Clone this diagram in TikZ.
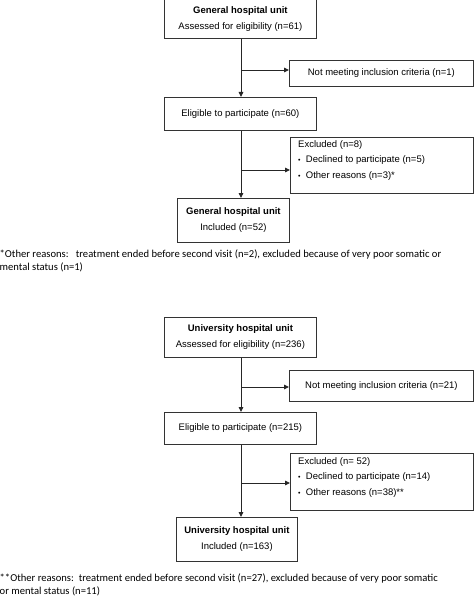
\documentclass[tikz,border=0pt]{standalone}
\usepackage{fontspec}
\setmainfont{Liberation Sans}
\newfontfamily\notefont{Carlito}
\usetikzlibrary{arrows.meta}
\begin{document}
\begin{tikzpicture}[x=1pt,y=-1pt,
  boxstyle/.style={draw=black!80,line width=0.8pt,inner sep=0pt,font=\fontsize{9.5}{12}\selectfont},
  conn/.style={draw=black!85,line width=0.9pt},
  arr/.style={conn,-{Triangle[length=5pt,width=4.5pt]}},
  notestyle/.style={anchor=west,inner sep=0pt,font=\notefont\fontsize{10.6}{13}\selectfont,align=left}]
\useasboundingbox (0,0) rectangle (474,599);
\fill[white] (0,0) rectangle (474,599);
% ---------- General hospital unit ----------
\node[boxstyle,minimum width=152pt,minimum height=39pt,anchor=north west,align=center] (g1) at (164,-0.5)
  {\textbf{General hospital unit}\\[4pt]Assessed for eligibility (n=61)};
\node[boxstyle,minimum width=184pt,minimum height=26pt,anchor=north west] (n1) at (289,60)
  {Not meeting inclusion criteria (n=1)};
\node[boxstyle,minimum width=152pt,minimum height=33pt,anchor=north west] (e1) at (164,97)
  {Eligible to participate (n=60)};
\node[boxstyle,minimum width=183pt,minimum height=56pt,anchor=north west] (x1) at (290,137) {};
\node[anchor=north west,inner sep=0pt,align=left,font=\fontsize{9.5}{15.5}\selectfont] (x1t) at (298,140)
  {Excluded (n=8)\\{\scriptsize\textbullet}\ \ Declined to participate (n=5)\\{\scriptsize\textbullet}\ \ Other reasons (n=3)*};
\node[boxstyle,minimum width=112pt,minimum height=44pt,anchor=north west,align=center] (i1) at (177,198)
  {\textbf{General hospital unit}\\[4pt]Included (n=52)};
\coordinate (b1) at (241,70);
\coordinate (b2) at (241,170);
\draw[arr] (g1.south -| b1) -- (e1.north -| b1);
\draw[arr] (b1) -- (n1.west |- b1);
\draw[arr] (e1.south -| b2) -- (i1.north -| b2);
\draw[arr] (b2) -- (x1.west |- b2);
\node[notestyle] (f1) at (-0.5,261)
  {*Other reasons:\ \ \ treatment ended before second visit (n=2), excluded because of very poor somatic or\\mental status (n=1)};
% ---------- University hospital unit ----------
\node[boxstyle,minimum width=152pt,minimum height=40pt,anchor=north west,align=center] (g2) at (164,317)
  {\textbf{University hospital unit}\\[4pt]Assessed for eligibility (n=236)};
\node[boxstyle,minimum width=184pt,minimum height=31pt,anchor=north west] (n2) at (289,370)
  {Not meeting inclusion criteria (n=21)};
\node[boxstyle,minimum width=152pt,minimum height=32pt,anchor=north west] (e2) at (164,412)
  {Eligible to participate (n=215)};
\node[boxstyle,minimum width=183pt,minimum height=57pt,anchor=north west] (x2) at (290,453) {};
\node[anchor=north west,inner sep=0pt,align=left,font=\fontsize{9.5}{15.5}\selectfont] (x2t) at (298,457)
  {Excluded (n= 52)\\{\scriptsize\textbullet}\ \ Declined to participate (n=14)\\{\scriptsize\textbullet}\ \ Other reasons (n=38)**};
\node[boxstyle,minimum width=121pt,minimum height=44pt,anchor=north west,align=center] (i2) at (176,517)
  {\textbf{University hospital unit}\\[4pt]Included (n=163)};
\coordinate (b3) at (241,387);
\coordinate (b4) at (241,483);
\draw[arr] (g2.south -| b3) -- (e2.north -| b3);
\draw[arr] (b3) -- (n2.west |- b3);
\draw[arr] (e2.south -| b4) -- (i2.north -| b4);
\draw[arr] (b4) -- (x2.west |- b4);
\node[notestyle] (f2) at (-0.5,585)
  {**Other reasons:\ \ treatment ended before second visit (n=27), excluded because of very poor somatic\\or mental status (n=11)};
\end{tikzpicture}
\end{document}
